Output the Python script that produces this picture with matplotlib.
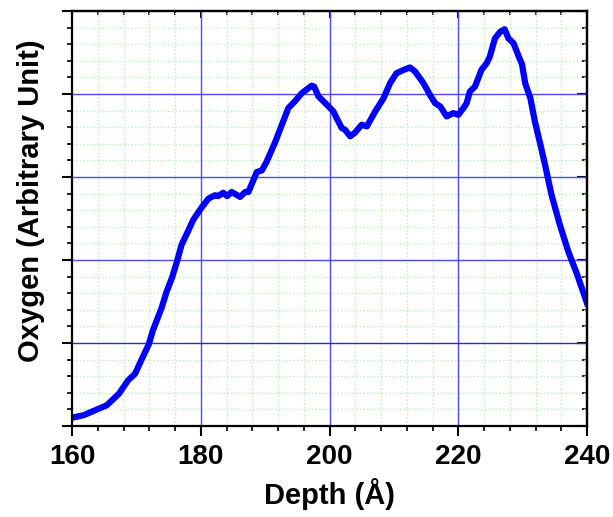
import matplotlib
matplotlib.use('Agg')
import numpy as np
import matplotlib.pyplot as plt
from matplotlib.ticker import MultipleLocator, NullFormatter

plt.rcParams['font.family'] = ['Liberation Sans', 'DejaVu Sans']
plt.rcParams['font.weight'] = 'bold'

# depth profile of oxygen signal
depth = [160.0, 161.8, 163.6, 165.4, 167.3, 168.7, 169.8, 170.8, 171.9, 172.6,
         173.9, 174.7, 175.5, 176.3, 177.0, 178.1, 178.8, 180.1, 181.2, 182.2,
         182.7, 183.5, 184.1, 184.8, 186.1, 186.9, 187.4, 188.7, 189.5, 190.2,
         191.5, 192.6, 193.6, 194.6, 195.7, 196.7, 197.2, 197.6, 198.3, 199.6,
         200.6, 201.1, 201.9, 202.4, 203.2, 203.9, 205.0, 205.8, 207.1, 208.4,
         209.4, 210.4, 211.5, 212.5, 213.3, 214.6, 215.6, 216.4, 217.2, 218.2,
         219.2, 220.0, 220.8, 221.3, 221.8, 222.6, 223.6, 224.4, 224.9, 225.7,
         226.5, 227.2, 227.8, 228.6, 229.4, 229.9, 230.4, 231.2, 231.9, 232.7,
         233.5, 234.5, 235.8, 237.1, 238.4, 240.0]
oxygen = [0.10, 0.13, 0.19, 0.25, 0.39, 0.55, 0.63, 0.80, 0.98, 1.16,
          1.42, 1.62, 1.78, 1.98, 2.18, 2.36, 2.48, 2.63, 2.74, 2.78,
          2.77, 2.81, 2.77, 2.82, 2.76, 2.82, 2.82, 3.06, 3.08, 3.18,
          3.41, 3.63, 3.83, 3.91, 4.01, 4.07, 4.10, 4.09, 3.97, 3.87,
          3.79, 3.71, 3.59, 3.57, 3.49, 3.53, 3.63, 3.61, 3.79, 3.95,
          4.13, 4.25, 4.29, 4.32, 4.27, 4.13, 3.99, 3.89, 3.85, 3.73,
          3.77, 3.75, 3.83, 3.89, 4.03, 4.09, 4.29, 4.37, 4.45, 4.67,
          4.75, 4.78, 4.67, 4.61, 4.45, 4.36, 4.13, 3.95, 3.67, 3.41,
          3.14, 2.78, 2.42, 2.10, 1.84, 1.48]

xticks = [160, 180, 200, 220, 240]

fig = plt.figure(figsize=(6.13, 5.17), dpi=100)
ax = fig.add_axes([0.1175, 0.176, 0.8401, 0.8027])

ax.set_xlim(160, 240)
ax.set_ylim(0, 5)
ax.set_xticks(xticks)
ax.xaxis.set_minor_locator(MultipleLocator(4))
ax.yaxis.set_major_locator(MultipleLocator(1))
ax.yaxis.set_minor_locator(MultipleLocator(0.2))
ax.yaxis.set_major_formatter(NullFormatter())

# grid: dotted green minor, solid blue major
ax.grid(which='minor', color='#b8f0b8', linestyle=':', linewidth=1.0)
for xv in [180, 200, 220]:
    ax.axvline(xv, color='#4a4aff', linewidth=1.0, zorder=1)
for yv in [2, 3, 4]:
    ax.axhline(yv, color='#4a4aff', linewidth=1.0, zorder=1)
ax.axhline(1, color='#2a2acc', linewidth=1.0, zorder=1)
ax.set_axisbelow(True)

ax.plot(depth, oxygen, color='#0000ff', linewidth=4.5, solid_joinstyle='round',
        zorder=3, clip_on=True)

for s in ax.spines.values():
    s.set_linewidth(1.6)
    s.set_zorder(4)

ax.tick_params(which='major', direction='out', length=7, width=1.5,
               labelsize=20, pad=6)
ax.tick_params(which='minor', direction='out', length=3.5, width=1.2)
for lab in ax.get_xticklabels():
    lab.set_fontweight('bold')

# mirrored ticks pointing inward on top and right
top = ax.secondary_xaxis('top')
top.set_xticks(xticks)
top.xaxis.set_minor_locator(MultipleLocator(4))
top.tick_params(which='major', direction='in', length=5, width=1.5, labeltop=False)
top.tick_params(which='minor', direction='in', length=3, width=1.2)
top.spines['top'].set_linewidth(1.6)

right = ax.secondary_yaxis('right')
right.yaxis.set_major_locator(MultipleLocator(1))
right.yaxis.set_minor_locator(MultipleLocator(0.2))
right.tick_params(which='major', direction='in', length=7, width=1.5, labelright=False)
right.tick_params(which='minor', direction='in', length=3.5, width=1.2)
right.spines['right'].set_linewidth(1.6)

ax.set_xlabel('Depth (Å)', fontsize=21, fontweight='bold', labelpad=6)
ax.set_ylabel('Oxygen (Arbitrary Unit)', fontsize=21, fontweight='bold')
ax.yaxis.set_label_coords(-0.052, 0.542)

fig.savefig('out.png', dpi=100)
